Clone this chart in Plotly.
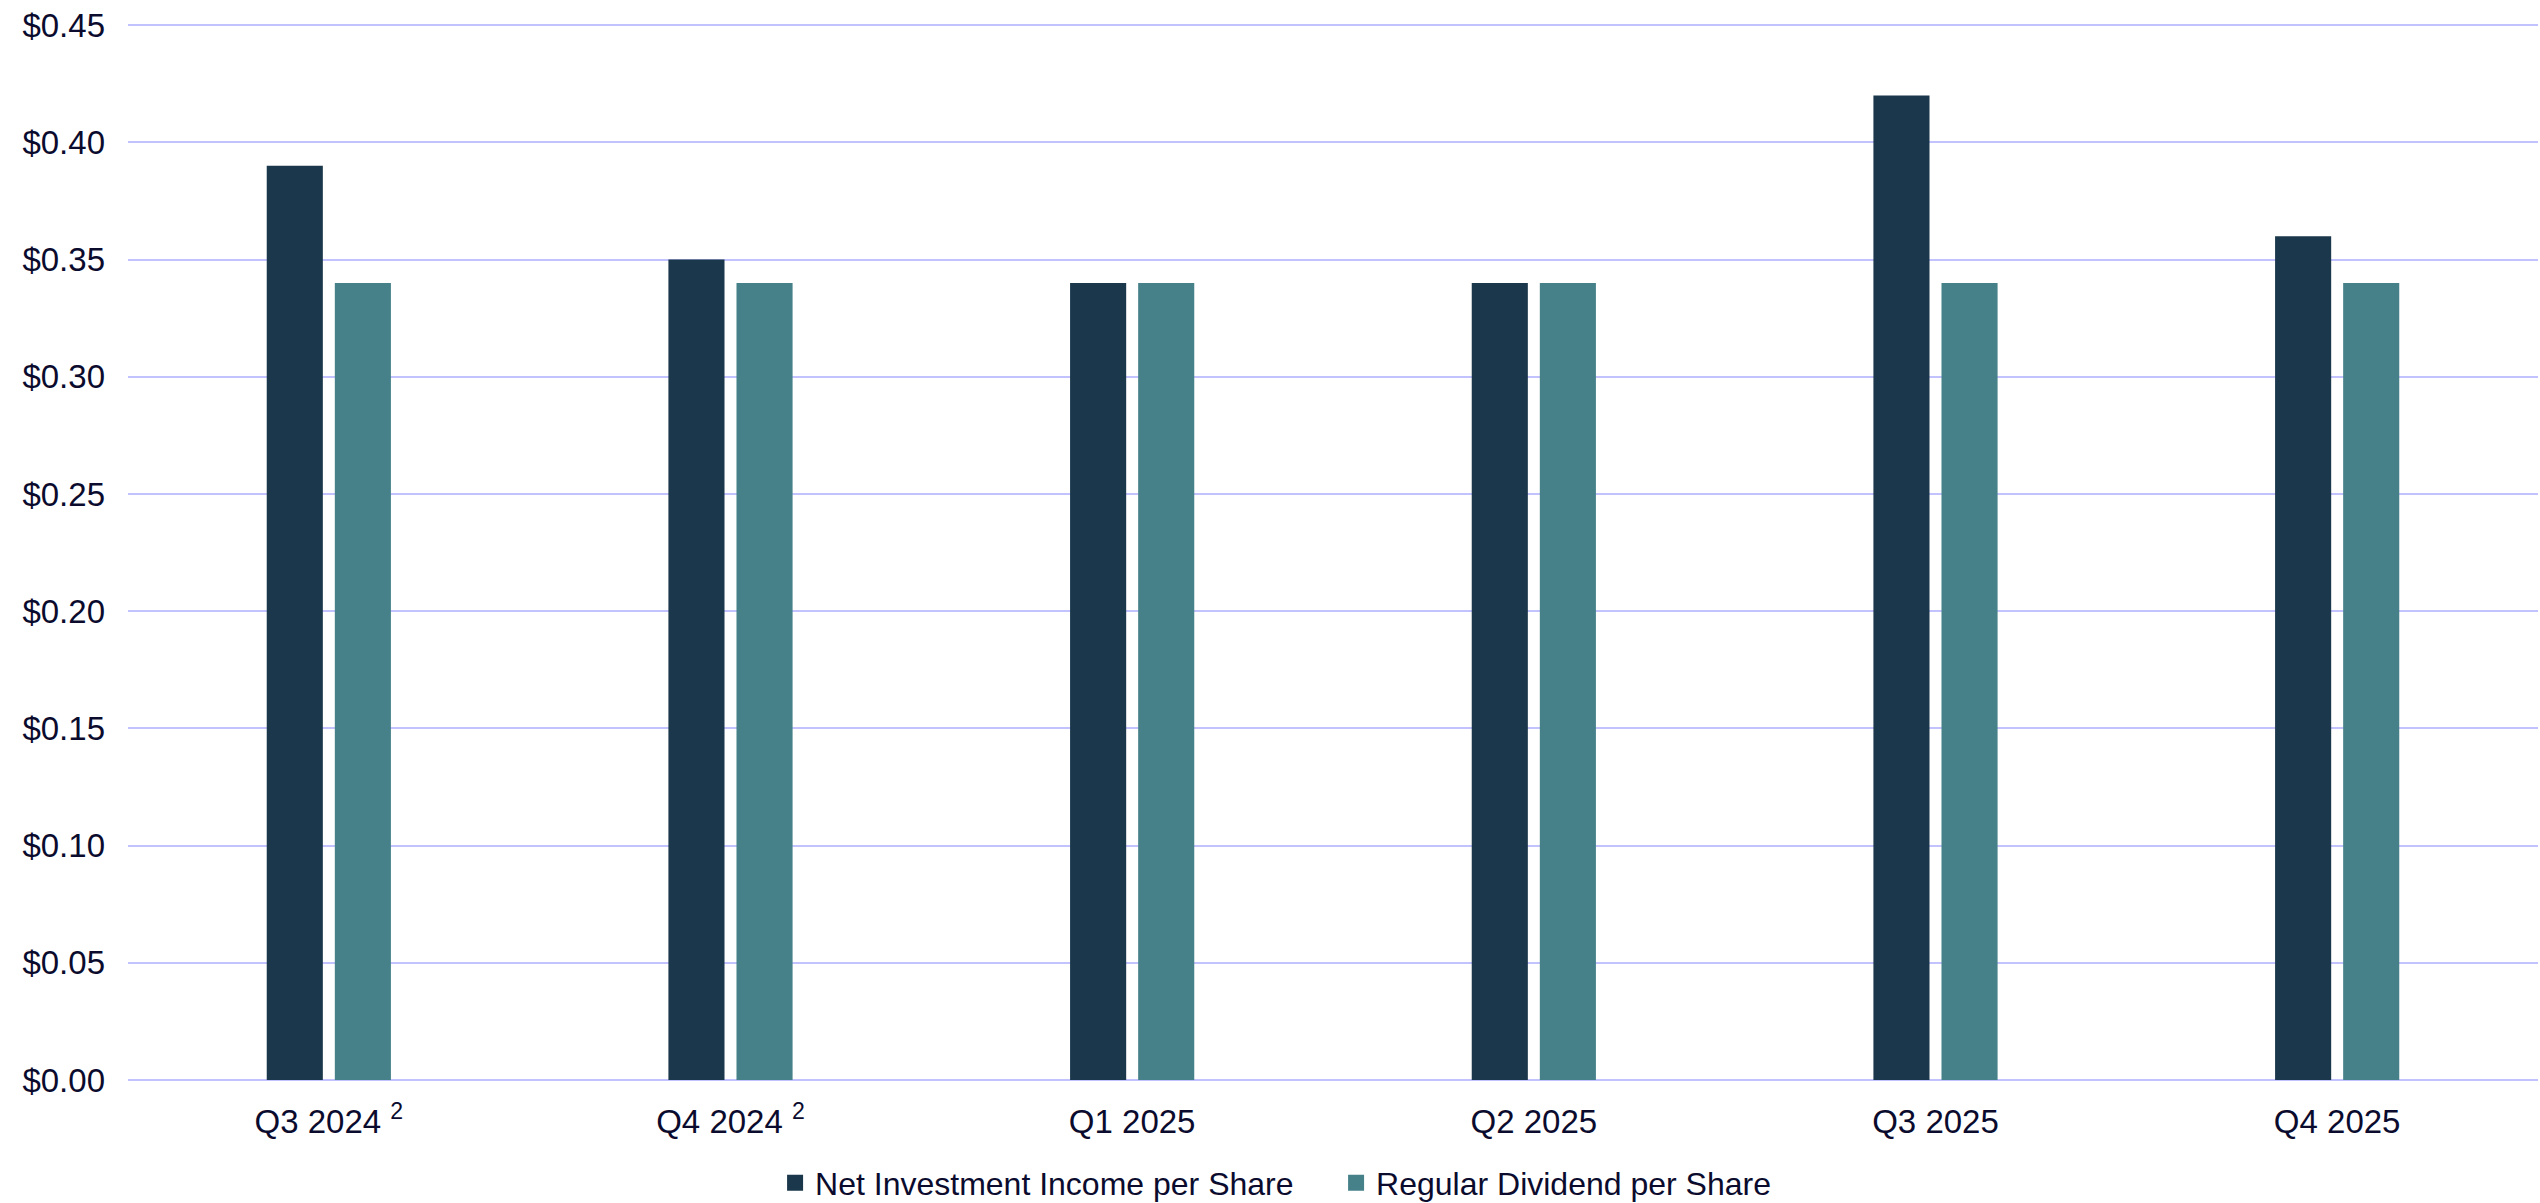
import plotly.graph_objects as go

categories = ["Q3 2024 <sup>2</sup>", "Q4 2024 <sup>2</sup>", "Q1 2025", "Q2 2025", "Q3 2025", "Q4 2025"]
nii_per_share = [0.39, 0.35, 0.34, 0.34, 0.42, 0.36]
dividend_per_share = [0.34, 0.34, 0.34, 0.34, 0.34, 0.34]
series_names = ["Net Investment Income per Share", "Regular Dividend per Share"]
series_colors = ["#1B374B", "#46818A"]
y_ticks = [0.00, 0.05, 0.10, 0.15, 0.20, 0.25, 0.30, 0.35, 0.40, 0.45]

text_color = "#0B0B2E"
font_family = "Liberation Sans, Arial, sans-serif"

fig = go.Figure()
for name, vals, col in zip(series_names, [nii_per_share, dividend_per_share], series_colors):
    fig.add_trace(go.Bar(x=categories, y=vals, name=name, showlegend=False,
                         marker=dict(color=col, line=dict(width=0))))
# legend proxies with larger square swatches
for name, col in zip(series_names, series_colors):
    fig.add_trace(go.Scatter(x=[None], y=[None], mode="markers", name=name,
                             marker=dict(symbol="square", size=20, color=col)))

fig.update_layout(
    width=2540, height=1203,
    margin=dict(l=128, r=2, t=24, b=123, autoexpand=False),
    paper_bgcolor="white", plot_bgcolor="white",
    barmode="group", bargap=0.661, bargroupgap=0.176,
    font=dict(family=font_family, size=33, color=text_color),
    legend=dict(orientation="h", x=0.2685, xanchor="left", y=-0.0975, yanchor="middle",
                font=dict(size=32, color=text_color), traceorder="normal",
                itemwidth=30, tracegroupgap=0, entrywidth=516, entrywidthmode="pixels"),
    xaxis=dict(showgrid=False, showline=False, ticks="", ticklabelstandoff=19,
               tickfont=dict(size=33, color=text_color)),
    yaxis=dict(range=[0, 0.4505], tickvals=y_ticks, tickformat="$.2f",
               showgrid=True, gridcolor="#C2C2FF", gridwidth=2,
               zeroline=True, zerolinecolor="#C2C2FF", zerolinewidth=2,
               showline=False, ticks="", ticklabelstandoff=22,
               tickfont=dict(size=33, color=text_color)),
)

fig.write_html("out.html")
